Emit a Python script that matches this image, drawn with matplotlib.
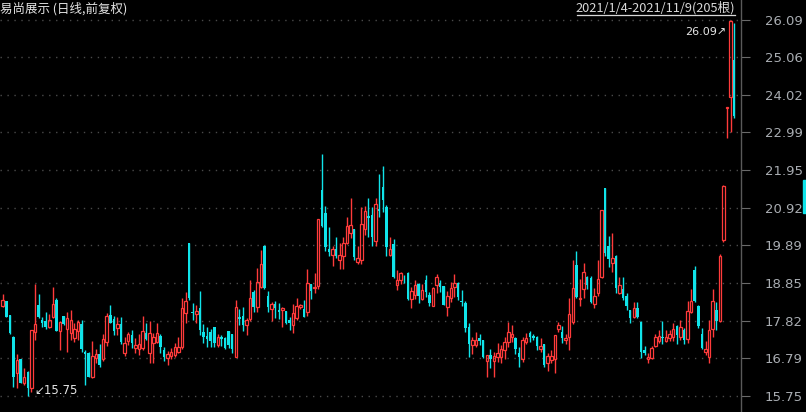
import numpy as np
import matplotlib
matplotlib.use('Agg')
from matplotlib import pyplot as plt
from matplotlib.patches import Rectangle
from matplotlib.lines import Line2D

# daily OHLC, 2021/1/4 - 2021/11/9, 205 bars
opens = [18.23, 18.36, 17.97, 17.38, 16.39, 16.76, 16.12, 16.42, 15.96, 17.52,
         18.25, 17.85, 17.82, 17.65, 17.93, 18.39, 17.54, 17.95, 17.58, 17.47,
         17.33, 17.54, 17.74, 16.97, 16.94, 16.26, 16.78, 16.90, 16.77, 17.24,
         17.97, 17.86, 17.63, 17.73, 16.94, 17.26, 17.42, 17.08, 17.03, 17.06,
         17.49, 16.92, 17.21, 17.24, 17.40, 17.01, 16.78, 16.85, 16.88, 16.97,
         17.09, 18.04, 19.96, 18.07, 17.99, 18.16, 17.51, 17.40, 17.52, 17.64,
         17.15, 17.36, 17.35, 17.54, 17.45, 16.83, 17.91, 17.95, 17.70, 17.86,
         18.62, 18.20, 18.75, 19.88, 18.50, 18.13, 18.28, 18.11, 18.11, 18.08,
         17.84, 17.70, 17.88, 18.20, 18.13, 18.06, 18.82, 18.73, 18.78, 21.42,
         20.77, 19.78, 19.62, 19.80, 19.50, 19.59, 19.94, 20.23, 20.33, 19.44,
         19.50, 20.33, 20.69, 20.72, 20.01, 20.90, 21.48, 20.95, 19.62, 19.93,
         18.80, 18.95, 19.03, 19.14, 18.41, 18.52, 18.84, 18.41, 18.94, 18.52,
         18.22, 18.80, 18.86, 18.77, 18.19, 18.43, 18.75, 18.86, 18.37, 18.31,
         17.65, 17.15, 17.15, 17.33, 17.29, 16.72, 16.87, 16.72, 16.83, 16.81,
         17.01, 17.24, 17.38, 17.33, 16.94, 16.76, 17.24, 17.47, 17.41, 17.38,
         17.03, 17.18, 16.66, 16.74, 16.76, 17.58, 17.52, 17.29, 17.38, 17.79,
         19.35, 18.41, 18.68, 19.03, 18.98, 18.27, 18.57, 19.01, 21.46, 19.87,
         19.40, 19.60, 18.57, 18.68, 18.50, 18.10, 17.93, 18.16, 17.79, 17.01,
         16.76, 16.79, 17.13, 17.27, 17.38, 17.27, 17.34, 17.37, 17.68, 17.38,
         17.55, 17.31, 18.07, 19.20, 18.23, 17.46, 16.97, 16.82, 17.59, 18.12,
         17.80, 20.04, 23.66, 23.96, 24.98]
highs = [18.55, 18.37, 17.98, 17.40, 16.90, 16.77, 16.53, 16.43, 17.56, 18.83,
         18.55, 17.93, 18.06, 18.00, 18.75, 18.43, 17.80, 17.96, 18.07, 18.11,
         17.75, 17.84, 17.84, 17.01, 16.95, 17.27, 17.04, 17.18, 17.45, 18.02,
         18.25, 17.95, 17.91, 17.91, 17.36, 17.52, 17.56, 17.33, 17.45, 17.95,
         17.76, 17.82, 17.49, 17.75, 17.45, 17.09, 16.99, 17.06, 17.20, 17.38,
         18.43, 18.62, 19.96, 18.30, 18.25, 18.63, 17.73, 17.65, 17.58, 17.65,
         17.45, 17.43, 17.38, 17.54, 17.46, 18.39, 18.13, 18.19, 17.90, 18.95,
         18.66, 19.28, 19.76, 19.90, 18.63, 18.34, 18.37, 18.30, 18.19, 18.09,
         17.93, 18.29, 18.43, 18.27, 18.38, 19.23, 18.83, 19.12, 20.60, 22.41,
         20.97, 20.38, 19.87, 20.11, 19.96, 20.11, 20.66, 21.18, 20.34, 19.87,
         20.95, 20.97, 21.18, 20.95, 21.18, 21.85, 22.07, 21.00, 20.13, 20.05,
         19.21, 19.17, 19.07, 19.17, 18.75, 18.95, 18.86, 18.84, 19.07, 18.62,
         18.74, 19.10, 18.95, 18.78, 18.63, 18.89, 19.10, 18.87, 18.66, 18.37,
         17.76, 17.36, 17.52, 17.44, 17.30, 16.88, 17.03, 16.97, 17.21, 17.15,
         17.38, 17.79, 17.70, 17.38, 17.10, 17.38, 17.49, 17.53, 17.45, 17.39,
         17.33, 17.19, 16.92, 17.01, 17.42, 17.79, 17.67, 17.45, 18.43, 19.49,
         19.73, 18.96, 19.40, 19.05, 19.05, 18.71, 19.49, 20.86, 21.46, 20.15,
         20.24, 19.61, 19.03, 19.01, 18.57, 18.11, 18.32, 18.34, 17.80, 17.12,
         16.93, 17.13, 17.46, 17.57, 17.82, 17.57, 17.57, 17.75, 17.69, 17.84,
         17.61, 18.35, 18.68, 19.33, 18.24, 17.61, 17.27, 17.84, 18.68, 18.32,
         19.65, 21.55, 23.70, 26.09, 25.99]
lows = [18.20, 17.93, 17.45, 16.00, 15.96, 16.10, 16.05, 15.75, 15.85, 17.29,
        17.90, 17.65, 17.60, 17.61, 17.90, 17.54, 17.01, 17.70, 16.97, 17.29,
        17.24, 17.29, 16.97, 16.05, 16.26, 16.24, 16.65, 16.54, 16.70, 17.11,
        17.75, 17.43, 17.43, 17.18, 16.85, 17.15, 17.06, 16.94, 16.88, 17.00,
        17.29, 16.67, 16.67, 17.20, 16.94, 16.72, 16.60, 16.76, 16.83, 16.94,
        17.05, 17.76, 18.40, 17.84, 17.76, 17.43, 17.21, 17.10, 17.10, 17.10,
        17.10, 17.12, 17.03, 17.06, 16.94, 16.83, 17.70, 17.54, 17.43, 17.80,
        18.07, 18.07, 18.73, 18.70, 18.07, 17.82, 17.88, 17.86, 17.65, 17.74,
        17.56, 17.49, 17.83, 18.15, 17.91, 17.95, 18.42, 18.59, 18.68, 20.38,
        19.74, 19.59, 19.32, 19.53, 19.23, 19.23, 19.92, 20.08, 19.50, 19.37,
        19.39, 20.17, 20.12, 19.87, 19.87, 20.67, 20.81, 19.60, 19.60, 19.00,
        18.66, 18.84, 18.86, 18.39, 18.18, 18.41, 18.31, 18.39, 18.48, 18.22,
        18.22, 18.59, 18.62, 18.25, 17.95, 18.34, 18.48, 18.39, 18.22, 17.52,
        16.83, 16.90, 17.10, 17.15, 16.80, 16.26, 16.51, 16.28, 16.69, 16.66,
        16.76, 17.10, 17.24, 16.90, 16.55, 16.69, 17.18, 17.24, 17.29, 17.01,
        16.97, 16.55, 16.44, 16.66, 16.39, 17.52, 17.21, 17.18, 17.01, 17.73,
        18.45, 18.21, 18.43, 18.68, 18.30, 18.16, 18.50, 18.98, 19.60, 19.30,
        19.17, 18.57, 18.55, 18.40, 18.10, 17.75, 17.88, 17.88, 16.79, 16.88,
        16.67, 16.76, 17.10, 17.20, 17.18, 17.22, 17.25, 17.25, 17.18, 17.30,
        17.18, 17.20, 18.03, 18.34, 17.61, 17.05, 16.88, 16.65, 17.38, 17.55,
        17.78, 19.98, 22.84, 23.01, 23.40]
closes = [18.39, 17.93, 17.47, 16.28, 16.74, 16.12, 16.26, 15.96, 17.56, 17.74,
          17.93, 17.76, 17.65, 17.84, 18.29, 17.54, 17.79, 17.74, 17.88, 17.85,
          17.58, 17.79, 17.03, 16.90, 16.28, 16.85, 16.90, 16.60, 17.31, 17.95,
          17.76, 17.54, 17.72, 17.22, 17.20, 17.44, 17.20, 17.15, 17.17, 17.54,
          17.31, 17.47, 17.36, 17.47, 17.10, 16.83, 16.89, 16.97, 17.10, 17.10,
          18.16, 18.37, 18.43, 18.04, 18.08, 17.56, 17.36, 17.31, 17.27, 17.20,
          17.36, 17.31, 17.06, 17.15, 17.04, 18.19, 17.86, 17.70, 17.84, 18.45,
          18.20, 18.89, 19.38, 18.71, 18.19, 18.28, 18.16, 18.07, 18.16, 17.76,
          17.76, 18.04, 18.22, 18.25, 17.93, 18.86, 18.64, 18.75, 20.60, 20.42,
          19.83, 19.71, 19.78, 19.59, 19.62, 19.96, 20.42, 20.44, 19.56, 19.53,
          20.47, 20.84, 20.63, 20.12, 21.02, 20.84, 21.13, 19.85, 19.79, 19.03,
          18.95, 19.12, 19.01, 18.41, 18.64, 18.80, 18.50, 18.66, 18.62, 18.31,
          18.73, 19.01, 18.75, 18.25, 18.50, 18.73, 18.86, 18.48, 18.34, 17.61,
          17.18, 17.29, 17.29, 17.27, 16.81, 16.87, 16.76, 16.85, 16.94, 17.03,
          17.24, 17.52, 17.45, 17.03, 16.83, 17.30, 17.35, 17.38, 17.35, 17.12,
          17.12, 16.60, 16.85, 16.85, 17.42, 17.70, 17.33, 17.33, 18.00, 18.71,
          18.48, 18.45, 19.17, 18.80, 18.34, 18.50, 18.96, 20.86, 19.67, 19.51,
          19.53, 18.71, 18.80, 18.43, 18.22, 17.88, 18.16, 17.93, 16.97, 16.92,
          16.82, 17.06, 17.38, 17.40, 17.35, 17.37, 17.46, 17.59, 17.43, 17.64,
          17.29, 18.09, 18.35, 18.35, 17.68, 17.06, 17.04, 17.57, 18.35, 17.80,
          19.60, 21.52, 23.70, 26.05, 23.44]

price_ticks = [15.75, 16.79, 17.82, 18.85, 19.89, 20.92, 21.95, 22.99, 24.02, 25.06, 26.09]
title_text = '易尚展示 (日线,前复权)'
range_text = '2021/1/4-2021/11/9(205根)'

UP = '#ff3b3b'
DOWN = '#10e4ea'
GRID = '#4a4a4a'
LABEL = '#a9adb2'
W, H = 806, 412


def draw_candles(ax):
    o = np.array(opens)
    h = np.array(highs)
    l = np.array(lows)
    c = np.array(closes)
    x = np.arange(len(o))
    up = c >= o
    dn = ~up
    width = 0.7
    # falling bars: solid cyan
    ax.vlines(x[dn], l[dn], h[dn], color=DOWN, linewidth=1.0)
    ax.bar(x[dn], np.maximum(o[dn] - c[dn], 0.02), bottom=c[dn], width=width,
           color=DOWN, linewidth=0)
    # rising bars: hollow red
    ax.vlines(x[up], c[up], h[up], color=UP, linewidth=1.0)
    ax.vlines(x[up], l[up], o[up], color=UP, linewidth=1.0)
    ax.bar(x[up], np.maximum(c[up] - o[up], 0.02), bottom=o[up], width=width,
           fill=False, edgecolor=UP, linewidth=0.9)
    return x, h, l


def main():
    fig = plt.figure(figsize=(W / 100, H / 100), dpi=100)
    fig.patch.set_facecolor('black')
    ax = fig.add_axes([0, 0, 741 / W, 1])
    ax.set_facecolor('black')

    x, h, l = draw_candles(ax)

    ax.set_xlim(-0.75, 205.9)
    ax.set_ylim(15.31, 26.63)

    for s in ['top', 'left', 'bottom']:
        ax.spines[s].set_visible(False)
    ax.spines['right'].set_color('#5a5a5a')
    ax.spines['right'].set_linewidth(1.0)

    ax.set_xticks([])
    ax.yaxis.tick_right()
    ax.set_yticks(price_ticks)
    ax.set_yticklabels(['%.2f' % t for t in price_ticks])
    ax.tick_params(axis='y', direction='out', length=6.5, width=0.8,
                   color='#6a6a6a', pad=38, labelsize=9.5, labelcolor=LABEL)
    for lab in ax.get_yticklabels():
        lab.set_horizontalalignment('right')
    ax.grid(axis='y', color=GRID, linestyle=(0, (1, 4)), linewidth=1.0)
    ax.set_axisbelow(True)

    # high / low markers
    i_hi = int(np.argmax(h))
    i_lo = int(np.argmin(l))
    ax.annotate('%.2f↗' % h[i_hi], (x[i_hi], h[i_hi]), xytext=(-3, -9),
                textcoords='offset points', ha='right', va='center',
                color='#e6e6e6', fontsize=8, family='DejaVu Sans')
    ax.annotate('↙%.2f' % l[i_lo], (x[i_lo], l[i_lo]), xytext=(5, 3.6),
                textcoords='offset points', ha='left', va='center',
                color='#e6e6e6', fontsize=8.5, family='DejaVu Sans')

    fig.text(0, 1 - 9 / H, title_text, ha='left', va='center', color='#e4e4e4',
             fontsize=9, family=['Noto Sans CJK SC', 'DejaVu Sans'])
    fig.text(735 / W, 1 - 8 / H, range_text, ha='right', va='center', color='#d8d8d8',
             fontsize=9.2, family=['Noto Sans CJK SC', 'DejaVu Sans'])
    fig.lines.append(Line2D([577 / W, 735 / W], [1 - 14.5 / H, 1 - 14.5 / H],
                            transform=fig.transFigure, color='#d8d8d8', linewidth=0.9))

    # small cyan marker on the right edge
    fig.patches.append(Rectangle((803 / W, 1 - 213 / H), 3 / W, 33 / H,
                                 transform=fig.transFigure, color=DOWN))

    fig.savefig('out.png', dpi=100, facecolor='black')


if __name__ == "__main__":
    main()
